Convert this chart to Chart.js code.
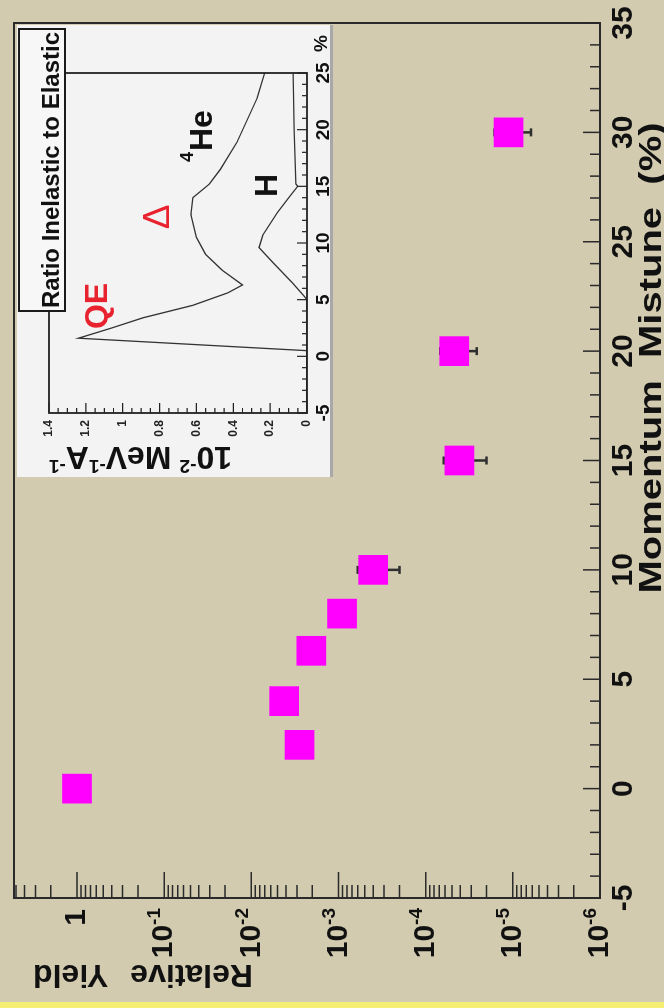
<!DOCTYPE html>
<html>
<head>
<meta charset="utf-8">
<script src="https://cdn.jsdelivr.net/npm/chart.js@4.4.1/dist/chart.umd.min.js"></script>
<style>
  html, body { margin: 0; padding: 0; }
  body { width: 664px; height: 1008px; overflow: hidden; background: #d2cbb0; position: relative; }
  /* the chart is drawn landscape and turned a quarter turn, like the original figure */
  #stage { position: absolute; left: 0; top: 0; width: 1008px; height: 664px;
           transform-origin: 0 0; transform: translate(0, 1008px) rotate(-90deg); }
  #mainChart { position: absolute; left: 0; top: 0; }
  #insetChart { position: absolute; left: 531px; top: 17px; }
  #strip { position: absolute; left: 0; top: 1002px; width: 664px; height: 6px; background: #f4ef72; }
</style>
</head>
<body>
<div id="stage">
  <canvas id="mainChart" width="1008" height="664"></canvas>
  <canvas id="insetChart" width="452" height="316"></canvas>
</div>
<div id="strip"></div>
<script>
// Main plot: relative yield vs momentum mistune
const momentum = [0, 2, 4, 6.3, 8, 10, 15, 20, 30];
const relYield = [1.0, 2.8e-3, 4.2e-3, 2.05e-3, 9.1e-4, 4.0e-4, 4.1e-5, 4.7e-5, 1.12e-5];
const yieldErr = [0, 0, 0, 0, 0, 2.0e-4, 2.1e-5, 2.1e-5, 5.0e-6];
const momentumTicks = [-5, 0, 5, 10, 15, 20, 25, 30, 35];
const yieldExponents = [0, -1, -2, -3, -4, -5, -6];

// Inset: ratio inelastic to elastic
const heMomentum = [-5, 0.5, 1.6, 2.5, 3.4, 4.5, 5.6, 6.3, 7.6, 9, 10.5, 12.5, 14, 15.2, 16.5, 18.9, 22.8, 25];
const heRatio = [0, 0, 1.24, 1.06, 0.89, 0.62, 0.43, 0.35, 0.46, 0.55, 0.6, 0.63, 0.62, 0.53, 0.47, 0.38, 0.27, 0.23];
const hMomentum = [-5, 5, 5.4, 6.5, 8.2, 9.6, 10.7, 12.7, 14.2, 15, 15.2, 20, 25];
const hRatio = [0, 0, 0.02, 0.08, 0.18, 0.26, 0.24, 0.16, 0.09, 0.05, 0.06, 0.07, 0.075];
const insetMomentumTicks = [-5, 0, 5, 10, 15, 20, 25];
const insetRatioTicks = [0, 0.2, 0.4, 0.6, 0.8, 1, 1.2, 1.4];

const FAMILY = "'Liberation Sans', Arial, sans-serif";
const font = (size, bold) => (bold ? 'bold ' : '') + size + 'px ' + FAMILY;

// text with superscripts, drawn piece by piece
function partsWidth(ctx, parts) {
  let w = 0;
  parts.forEach(p => { ctx.font = font(p.size, p.bold !== false); w += ctx.measureText(p.t).width + (p.gap || 0); });
  return w;
}
function drawParts(ctx, parts, x, y) {
  ctx.textAlign = 'left';
  parts.forEach(p => {
    ctx.font = font(p.size, p.bold !== false);
    ctx.fillText(p.t, x, y - (p.rise || 0));
    x += ctx.measureText(p.t).width + (p.gap || 0);
  });
}

const mainDecor = {
  id: 'mainDecor',
  beforeDatasetsDraw(chart) {
    // error bars sit under the squares
    const { ctx, scales: { x, y } } = chart;
    ctx.save();
    ctx.strokeStyle = '#2f2f2f';
    ctx.lineWidth = 2.5;
    momentum.forEach((m, i) => {
      if (!yieldErr[i]) return;
      const px = x.getPixelForValue(m);
      const y1 = y.getPixelForValue(relYield[i] + yieldErr[i]);
      const y2 = y.getPixelForValue(relYield[i] - yieldErr[i]);
      ctx.beginPath();
      ctx.moveTo(px, y1); ctx.lineTo(px, y2);
      ctx.moveTo(px - 4, y1); ctx.lineTo(px + 4, y1);
      ctx.moveTo(px - 4, y2); ctx.lineTo(px + 4, y2);
      ctx.stroke();
    });
    ctx.restore();
  },
  afterDraw(chart) {
    const { ctx, chartArea: a, scales: { x, y } } = chart;
    ctx.save();
    ctx.strokeStyle = '#2a2a2a';
    ctx.lineWidth = 2;
    ctx.strokeRect(a.left, a.top, a.right - a.left, a.bottom - a.top);

    // ticks point inwards
    ctx.lineWidth = 1.5;
    ctx.beginPath();
    for (let m = -5; m <= 35; m++) {
      const px = x.getPixelForValue(m);
      const len = m % 5 === 0 ? 17 : 10;
      ctx.moveTo(px, a.bottom); ctx.lineTo(px, a.bottom - len);
    }
    for (let e = -6; e <= 0; e++) {
      for (let k = 1; k <= 9; k++) {
        const v = k * Math.pow(10, e);
        if (v > y.max) break;
        const py = y.getPixelForValue(v);
        const len = k === 1 ? 26 : 13;
        ctx.moveTo(a.left, py); ctx.lineTo(a.left + len, py);
      }
    }
    ctx.stroke();

    // log axis labels
    ctx.fillStyle = '#111';
    ctx.textBaseline = 'middle';
    yieldExponents.forEach(e => {
      const py = y.getPixelForValue(Math.pow(10, e));
      if (e === 0) {
        ctx.font = font(30, true);
        ctx.textAlign = 'right';
        ctx.fillText('1', 99, py);
        return;
      }
      const parts = [{ t: '10', size: 30 }, { t: String(e), size: 19, rise: 9 }];
      const w = partsWidth(ctx, parts);
      drawParts(ctx, parts, 100 - w, py);
    });

    // axis titles
    ctx.textBaseline = 'alphabetic';
    ctx.textAlign = 'center';
    ctx.save();
    ctx.translate(650, 661);
    ctx.scale(1.25, 1);
    ctx.font = font(32, true);
    ctx.fillText('Momentum  Mistune  (%)', 0, 0);
    ctx.restore();

    ctx.save();
    ctx.translate(43, 33);
    ctx.rotate(-Math.PI / 2);
    ctx.font = font(32, true);
    ctx.textAlign = 'right';
    ctx.fillText('Yield', 0, 0);
    ctx.fillText('Relative', -ctx.measureText('Yield').width - 22, 0);
    ctx.restore();
    ctx.restore();
  }
};

new Chart(document.getElementById('mainChart'), {
  type: 'scatter',
  data: {
    datasets: [{
      label: 'Relative Yield',
      data: momentum.map((m, i) => ({ x: m, y: relYield[i] })),
      pointStyle: 'rect',
      pointRadius: 21,
      backgroundColor: '#ff00ff',
      borderWidth: 0
    }]
  },
  options: {
    responsive: false,
    animation: false,
    devicePixelRatio: 1,
    layout: { autoPadding: false, padding: { left: 0, right: 23, top: 14, bottom: 0 } },
    plugins: { legend: { display: false }, tooltip: { enabled: false } },
    scales: {
      x: {
        type: 'linear', min: -5, max: 35,
        afterBuildTicks: s => { s.ticks = momentumTicks.map(v => ({ value: v })); },
        afterFit: s => { s.height = 64; },
        grid: { display: false, drawTicks: false },
        border: { display: false },
        ticks: { color: '#111', padding: 6, maxRotation: 0, autoSkip: false, font: { family: FAMILY, size: 30, weight: 'bold' } }
      },
      y: {
        type: 'logarithmic', min: 1e-6, max: 5.28,
        afterFit: s => { s.width = 110; },
        grid: { display: false, drawTicks: false },
        border: { display: false },
        ticks: { display: false }
      }
    }
  },
  plugins: [mainDecor]
});

const insetDecor = {
  id: 'insetDecor',
  beforeDraw(chart) {
    const { ctx, width, height } = chart;
    ctx.save();
    ctx.fillStyle = '#f3f3f3';
    ctx.fillRect(0, 0, width, height);
    ctx.fillStyle = '#a8a8a8';
    ctx.fillRect(0, height - 3, width, 3);
    ctx.restore();
  },
  afterDraw(chart) {
    const { ctx, chartArea: a, scales: { x, y } } = chart;
    ctx.save();
    ctx.strokeStyle = '#222';
    ctx.lineWidth = 1.8;
    ctx.strokeRect(a.left, a.top, a.right - a.left, a.bottom - a.top);

    ctx.lineWidth = 1.2;
    ctx.beginPath();
    for (let m = -5; m <= 25; m++) {
      const px = x.getPixelForValue(m);
      const len = m % 5 === 0 ? 10 : 5;
      ctx.moveTo(px, a.bottom); ctx.lineTo(px, a.bottom - len);
    }
    for (let k = 0; k <= 28; k++) {
      const py = y.getPixelForValue(k * 0.05);
      const len = k % 4 === 0 ? 10 : 5;
      ctx.moveTo(a.left, py); ctx.lineTo(a.left + len, py);
    }
    ctx.stroke();

    // title box
    ctx.fillStyle = '#f7f7f7';
    ctx.fillRect(166, 2, 282, 46);
    ctx.lineWidth = 2;
    ctx.strokeStyle = '#1a1a1a';
    ctx.strokeRect(166, 2, 282, 46);
    ctx.fillStyle = '#111';
    ctx.font = font(24, true);
    ctx.textAlign = 'center';
    ctx.textBaseline = 'alphabetic';
    ctx.fillText('Ratio Inelastic to Elastic', 307, 42);

    // annotations
    ctx.fillStyle = '#e8232f';
    ctx.font = font(32, true);
    ctx.fillText('QE', 171, 90);
    ctx.font = font(37, false);
    ctx.fillText('\u0394', 260, 152);
    ctx.fillStyle = '#111';
    ctx.font = font(18, true);
    ctx.textAlign = 'right';
    ctx.fillText('4', 325, 176);
    ctx.font = font(32, true);
    ctx.textAlign = 'left';
    ctx.fillText('He', 326, 195);
    ctx.fillText('H', 280, 260);

    ctx.font = font(19, true);
    ctx.textBaseline = 'top';
    ctx.fillText('%', 425, 295);

    // y title: 10^-2 MeV^-1 A^-1
    ctx.textBaseline = 'alphabetic';
    ctx.translate(30, 215);
    ctx.rotate(-Math.PI / 2);
    drawParts(ctx, [
      { t: '10', size: 32 }, { t: '-2', size: 19, rise: 13, gap: 8 },
      { t: 'MeV', size: 32 }, { t: '-1', size: 19, rise: 13 },
      { t: 'A', size: 32 }, { t: '-1', size: 19, rise: 13 }
    ], 0, 0);
    ctx.restore();
  }
};

new Chart(document.getElementById('insetChart'), {
  type: 'scatter',
  data: {
    datasets: [
      { label: '4He', data: heMomentum.map((m, i) => ({ x: m, y: heRatio[i] })), showLine: true,
        borderColor: '#333', borderWidth: 1.3, pointRadius: 0, tension: 0 },
      { label: 'H', data: hMomentum.map((m, i) => ({ x: m, y: hRatio[i] })), showLine: true,
        borderColor: '#333', borderWidth: 1.3, pointRadius: 0, tension: 0 }
    ]
  },
  options: {
    responsive: false,
    animation: false,
    devicePixelRatio: 1,
    layout: { autoPadding: false, padding: { left: 0, right: 48, top: 32, bottom: 0 } },
    plugins: { legend: { display: false }, tooltip: { enabled: false } },
    scales: {
      x: {
        type: 'linear', min: -5, max: 25,
        afterBuildTicks: s => { s.ticks = insetMomentumTicks.map(v => ({ value: v })); },
        afterFit: s => { s.height = 26; },
        grid: { display: false, drawTicks: false },
        border: { display: false },
        ticks: { color: '#111', padding: 5, maxRotation: 0, autoSkip: false, font: { family: FAMILY, size: 19, weight: 'bold' } }
      },
      y: {
        type: 'linear', min: 0, max: 1.4,
        afterBuildTicks: s => { s.ticks = insetRatioTicks.map(v => ({ value: v })); },
        afterFit: s => { s.width = 64; },
        grid: { display: false, drawTicks: false },
        border: { display: false },
        ticks: { color: '#222', padding: 7, autoSkip: false, callback: v => String(+v.toFixed(1)),
                 font: { family: FAMILY, size: 12, weight: 'bold' } }
      }
    }
  },
  plugins: [insetDecor]
});
</script>
</body>
</html>
